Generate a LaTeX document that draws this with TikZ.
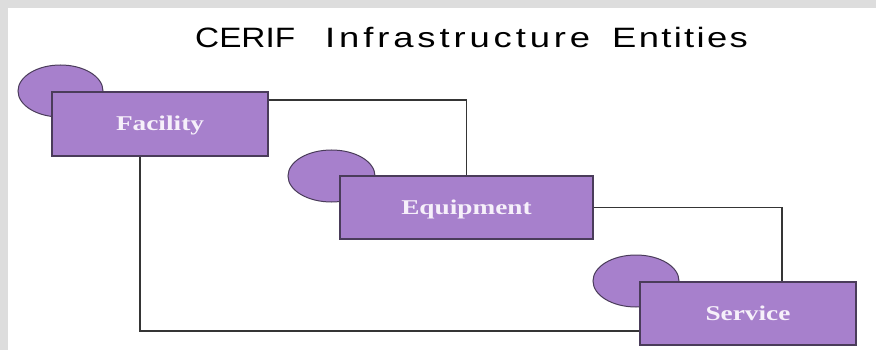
\documentclass[tikz,border=0pt]{standalone}
\usepackage{fontspec}
\setmainfont{Liberation Serif}
\newfontfamily\titlefont{Liberation Sans}
\definecolor{bggray}{HTML}{DDDDDD}
\definecolor{boxfill}{HTML}{A780CC}
\definecolor{boxedge}{HTML}{4A3C5A}
\definecolor{linecol}{HTML}{353535}
\definecolor{labelcol}{HTML}{F6F0FA}
\usetikzlibrary{shapes.geometric}
\tikzset{
  entity/.style={draw=boxedge, line width=1.1pt, fill=boxfill, rectangle, inner sep=0pt,
    font=\fontsize{21}{23}\selectfont\bfseries, text=labelcol, text height=14pt, text depth=0pt},
  blob/.style={draw=boxedge, line width=1pt, fill=boxfill, ellipse, inner sep=0pt},
  conn/.style={draw=linecol, line width=1.3pt},
}
\begin{document}
\begin{tikzpicture}[x=1pt,y=-1pt]
\useasboundingbox (0,0) rectangle (876,350);
\fill[bggray] (0,0) rectangle (876,350);
\fill[white] (8,8) rectangle (876,350);
\node[anchor=base west, inner sep=0pt] (title) at (195,48) {\titlefont\fontsize{28}{30}\selectfont\scalebox{1.19}[1]{CERIF}\hspace*{30pt}\scalebox{1.3}[1]{\addfontfeature{LetterSpace=10.7}Infrastructure}\hspace*{22pt}\scalebox{1.3}[1]{\addfontfeature{LetterSpace=6.4}Entities}};
% ellipses
\node[blob, minimum width=85pt, minimum height=52pt] (e1) at (60.5,91) {};
\node[blob, minimum width=87pt, minimum height=52pt] (e2) at (331.5,176) {};
\node[blob, minimum width=86pt, minimum height=52pt] (e3) at (636,281) {};
% boxes
\node[entity, minimum width=216pt, minimum height=64pt] (fac) at (160,124) {\scalebox{1.3}[1]{Facility}};
\node[entity, minimum width=253pt, minimum height=63pt] (equ) at (466.5,207.5) {\scalebox{1.3}[1]{Equipment}};
\node[entity, minimum width=216pt, minimum height=63pt] (svc) at (748,313.5) {\scalebox{1.3}[1]{Service}};
% connectors
\draw[conn] ([yshift=24pt]fac.east) -| (equ.north);
\draw[conn] (equ.east) -| ([xshift=34pt]svc.north);
\draw[conn] ([xshift=-20pt]fac.south) |- ([yshift=-17.5pt]svc.west);
\end{tikzpicture}
\end{document}
